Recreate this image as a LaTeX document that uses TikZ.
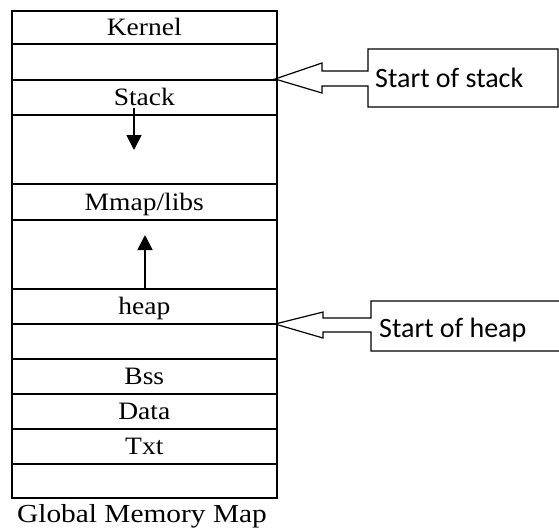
\documentclass[tikz,border=0pt]{standalone}
\usepackage{fontspec}
\setmainfont{Liberation Serif}
\newfontfamily\calib{Carlito}
\usetikzlibrary{arrows.meta}
\newcommand\lbl[1]{\scalebox{1.1}[1]{#1}}
\begin{document}
\begin{tikzpicture}[x=1pt,y=-1pt,
  seg/.style={draw, line width=1.6pt, minimum width=265pt, inner sep=0pt,
    anchor=north west, text height=17pt, text depth=0pt,
    font=\fontsize{25}{25}\selectfont},
  arr/.style={line width=1.8pt, -{Triangle[length=15pt,width=15pt]}},
  callout/.style={draw, line width=1.2pt, line join=miter},
  ctext/.style={anchor=base west, inner sep=0pt, font=\calib\fontsize{28}{28}\selectfont}]
\useasboundingbox (0,0) rectangle (559,531);
\node[seg, minimum height=33pt] (kernel) at (11,10) {\lbl{Kernel}};
\node[seg, minimum height=36pt] (gap1) at (11,43) {};
\node[seg, minimum height=35pt] (stack) at (11,79) {\lbl{Stack}};
\node[seg, minimum height=69pt] (free1) at (11,114) {};
\node[seg, minimum height=36pt] (mmap) at (11,183) {\lbl{Mmap/libs}};
\node[seg, minimum height=69pt] (free2) at (11,219) {};
\node[seg, minimum height=35pt] (heap) at (11,288) {\lbl{heap}};
\node[seg, minimum height=35pt] (gap2) at (11,323) {};
\node[seg, minimum height=35pt] (bss) at (11,358) {\lbl{Bss}};
\node[seg, minimum height=35pt] (data) at (11,393) {\lbl{Data}};
\node[seg, minimum height=35pt] (txt) at (11,428) {\lbl{Txt}};
\node[seg, minimum height=34pt] (gap3) at (11,463) {};
% growth arrows
\coordinate (sd0) at (134,108);
\coordinate (sd1) at (134,150);
\draw[arr] (sd0) -- (sd1);
\coordinate (hu0) at (145,288);
\coordinate (hu1) at (145,235);
\draw[arr] (hu0) -- (hu1);
% start of stack callout
\coordinate (st) at (275,79);
\draw[callout] (368,71) -- (368,49) -- (558,49) -- (558,107) -- (368,107) -- (368,86)
  -- (322,86) -- (322,93) -- (st) -- (322,63) -- (322,71) -- cycle;
\node[ctext] (sos) at (375,87) {Start of stack};
% start of heap callout
\coordinate (ht) at (275,324);
\draw[callout] (560,301) -- (371,301) -- (371,318) -- (323,318) -- (323,312) -- (ht)
  -- (323,338) -- (323,332) -- (371,332) -- (371,351) -- (560,351);
\node[ctext] (soh) at (379,337) {Start of heap};
\node[anchor=base, inner sep=0pt, font=\fontsize{26}{26}\selectfont] (title) at (142,522) {\scalebox{1.13}[1]{Global Memory Map}};
\end{tikzpicture}
\end{document}
